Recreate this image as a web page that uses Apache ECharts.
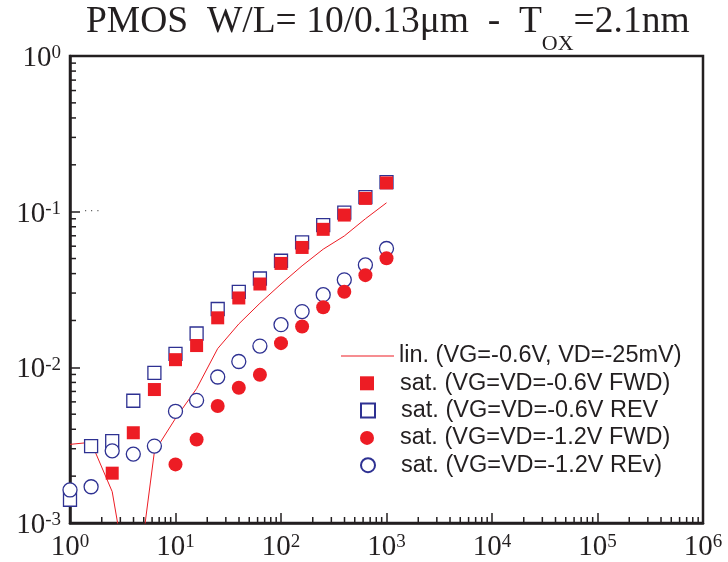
<!DOCTYPE html>
<html><head><meta charset="utf-8">
<script src="https://cdn.jsdelivr.net/npm/echarts@6/dist/echarts.min.js"></script>
<style>html,body{margin:0;padding:0;background:#fff}#c{width:728px;height:562px}</style>
</head><body><div id="c"></div>
<script>
// ---- data ----
const xValues = [1, 1.585, 2.512, 3.981, 6.31, 10, 15.85, 25.12, 39.81, 63.1, 100, 158.5, 251.2, 398.1, 631, 1000];
const linVG06 = [0.0032, 0.0033, 0.00159, 0.00026, 0.00287, 0.0047, 0.0073, 0.0132, 0.019, 0.0258, 0.0343, 0.0449, 0.0574, 0.0698, 0.090, 0.114];
const satFWD06 = [null, null, 0.00209, 0.0038, 0.0072, 0.0112, 0.0138, 0.0208, 0.0279, 0.0343, 0.0465, 0.0589, 0.077, 0.0951, 0.1217, 0.153];
const satREV06 = [0.00141, 0.00312, 0.00336, 0.0061, 0.0092, 0.0122, 0.0165, 0.0237, 0.0305, 0.0372, 0.0484, 0.0635, 0.082, 0.0985, 0.124, 0.155];
const satFWD12 = [null, null, null, null, null, 0.00238, 0.00344, 0.00565, 0.0074, 0.00897, 0.0143, 0.0183, 0.0243, 0.0306, 0.0391, 0.0502];
const satREV12 = [0.00163, 0.00171, 0.00291, 0.00277, 0.00312, 0.00522, 0.00614, 0.00867, 0.0109, 0.0137, 0.0188, 0.0228, 0.0293, 0.0365, 0.0455, 0.058];
const seriesNames = [
  'lin. (VG=-0.6V, VD=-25mV)',
  'sat. (VG=VD=-0.6V FWD)',
  'sat. (VG=VD=-0.6V REV',
  'sat. (VG=VD=-1.2V FWD)',
  'sat. (VG=VD=-1.2V REv)'
];
const xDecades = [1, 10, 100, 1000, 10000, 100000];
const yDecades = [0.001, 0.01, 0.1];
const minorMultipliers = [2, 3, 4, 5, 6, 7, 8, 9];
const titleMain = 'PMOS  W/L= 10/0.13μm  -  T';
const titleSub = 'OX';
const titleEnd = '=2.1nm';

// ---- chart ----
const RED = '#ed1c24', BLUE = '#2e3192', INK = '#231f20';
const SERIF = "'Liberation Serif','Times New Roman',serif";
const SANS = "'Liberation Sans',Arial,sans-serif";

const xMinor = [], yMinor = [];
xDecades.forEach(d => minorMultipliers.forEach(m => xMinor.push(d * m)));
yDecades.forEach(d => minorMultipliers.forEach(m => yMinor.push(d * m)));

function pairs(ys) {
  const out = [];
  xValues.forEach((x, i) => { if (ys[i] != null) out.push([x, ys[i]]); });
  return out;
}
function powLabel(v) {
  const e = Math.round(Math.log10(v));
  return '{b|10}{e|' + e + '}';
}
const powRich = {
  b: { fontFamily: SERIF, fontSize: 29, fontWeight: 'normal', color: INK, lineHeight: 40, padding: [8, 0, 0, 0], verticalAlign: 'top' },
  e: { fontFamily: SERIF, fontSize: 19, fontWeight: 'normal', color: INK, lineHeight: 16, padding: [8, 0, 0, 0], verticalAlign: 'top' }
};

const legendBase = {
  orient: 'horizontal', padding: 0, itemGap: 0, selectedMode: false,
  textStyle: { fontFamily: SANS, fontSize: 23.5, color: INK }
};
const rowY = [356, 383.3, 410.6, 437.9, 465.2];
const legends = [
  Object.assign({}, legendBase, {
    left: 341, top: rowY[0] - 12, itemWidth: 53, itemHeight: 1.2,
    data: [{ name: seriesNames[0], icon: 'rect' }]
  })
];
for (let i = 1; i < 5; i++) {
  legends.push(Object.assign({}, legendBase, {
    left: 360, top: rowY[i] - 12, itemWidth: 14, itemHeight: 14, data: [seriesNames[i]],
    textStyle: { fontFamily: SANS, fontSize: 23.5, color: INK, padding: [0, 0, 0, 21] }
  }));
}

function tickSeries(data, horizontal) {
  return {
    type: 'custom', silent: true, clip: false, z: 5,
    data: data,
    renderItem: function (params, api) {
      const p = api.coord([api.value(0), api.value(1)]);
      const shape = horizontal
        ? { x1: p[0], y1: p[1], x2: p[0] + 6, y2: p[1] }
        : { x1: p[0], y1: p[1], x2: p[0], y2: p[1] - 6 };
      return { type: 'line', shape: shape, style: { stroke: INK, lineWidth: 1.5 } };
    }
  };
}

const option = {
  backgroundColor: '#fff',
  animation: false,
  title: {
    left: 86, top: 3, padding: 0,
    text: '{m|' + titleMain + '}{s|' + titleSub + '}{m|' + titleEnd + '}',
    textStyle: {
      fontWeight: 'normal',
      rich: {
        m: { fontFamily: SERIF, fontSize: 37.5, fontWeight: 'normal', color: INK, lineHeight: 40, verticalAlign: 'top' },
        s: { fontFamily: SERIF, fontSize: 22, fontWeight: 'normal', color: INK, lineHeight: 20, padding: [30, 0, 0, 0], verticalAlign: 'top' }
      }
    }
  },
  legend: legends,
  grid: { left: 70, right: 25, top: 56, bottom: 37, show: true, borderColor: INK, borderWidth: 2.5, backgroundColor: 'transparent' },
  xAxis: {
    type: 'log', logBase: 10, min: 1, max: 1000000,
    axisLine: { show: true, lineStyle: { color: INK, width: 2.5 } },
    axisTick: { show: true, inside: true, length: 10, lineStyle: { color: INK, width: 1.5 } },
    splitLine: { show: false },
    axisLabel: { margin: 2, formatter: powLabel, rich: powRich }
  },
  yAxis: {
    type: 'log', logBase: 10, min: 0.001, max: 1,
    axisLine: { show: true, lineStyle: { color: INK, width: 2.5 } },
    axisTick: { show: true, inside: true, length: 10, lineStyle: { color: INK, width: 1.5 } },
    splitLine: { show: false },
    axisLabel: { margin: 9, formatter: powLabel, rich: powRich }
  },
  graphic: [
    { type: 'text', left: 84, top: 206, silent: true, style: { text: '· · ·', font: '10px ' + SANS, fill: '#444' } }
  ],
  series: [
    {
      name: seriesNames[0], type: 'line', data: pairs(linVG06), symbol: 'none',
      lineStyle: { color: RED, width: 1 }, itemStyle: { color: RED }, clip: true, z: 2
    },
    {
      name: seriesNames[2], type: 'scatter', data: pairs(satREV06), symbol: 'rect', symbolSize: 13,
      itemStyle: { color: '#fff', borderColor: BLUE, borderWidth: 1.3, opacity: 1 }, z: 3
    },
    {
      name: seriesNames[1], type: 'scatter', data: pairs(satFWD06), symbol: 'rect', symbolSize: 13,
      itemStyle: { color: RED, opacity: 1 }, z: 3
    },
    {
      name: seriesNames[4], type: 'scatter', data: pairs(satREV12), symbol: 'circle', symbolSize: 14,
      itemStyle: { color: '#fff', borderColor: BLUE, borderWidth: 1.3, opacity: 1 }, z: 3
    },
    {
      name: seriesNames[3], type: 'scatter', data: pairs(satFWD12), symbol: 'circle', symbolSize: 14,
      itemStyle: { color: RED, opacity: 1 }, z: 3
    },
    tickSeries(xMinor.map(v => [v, 0.001]), false),
    tickSeries(yMinor.map(v => [1, v]), true)
  ]
};
const chart = echarts.init(document.getElementById('c'), null, { renderer: 'canvas' });
chart.setOption(option);
</script>
</body></html>
